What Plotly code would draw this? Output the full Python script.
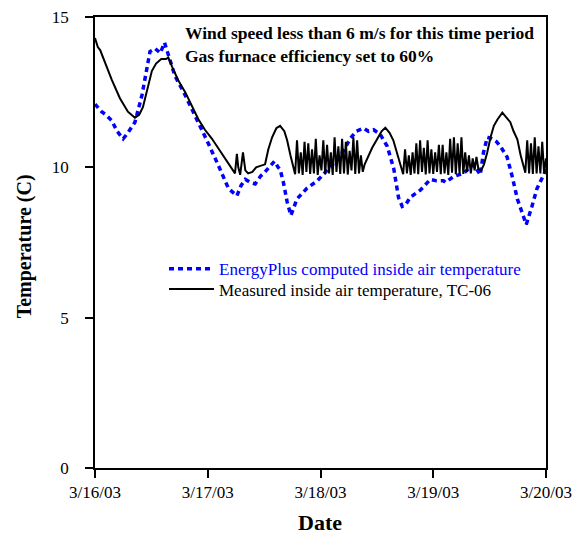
import pandas as pd
import plotly.graph_objects as go

# ---- data (hours after 3/16/03 00:00) ----
ep_hours = [0.0, 1.4, 2.3, 3.6, 4.7, 6.0, 7.0, 8.5, 10.0, 10.7, 11.7, 12.8, 13.9, 14.8, 15.6, 17.0,
            19.2, 22.0, 24.1, 26.3, 28.4, 30.2, 31.1, 32.0, 33.0, 34.1, 35.2, 36.2, 37.3, 38.2, 39.0,
            39.4, 40.1, 40.9, 41.7, 43.0, 45.1, 47.3, 49.4, 51.8, 53.1, 54.3, 55.6, 57.2, 58.2, 59.3,
            60.7, 62.2, 63.6, 64.6, 65.4, 66.1, 67.1, 69.3, 71.4, 72.7, 74.2, 74.6, 76.4, 78.5, 79.5,
            80.6, 81.4, 82.0, 82.7, 83.5, 84.5, 85.5, 86.3, 87.7, 88.8, 89.9, 90.9, 91.8, 93.0, 94.1,
            95.5, 96.0]
ep_temp = [12.1, 11.85, 11.75, 11.55, 11.2, 10.95, 11.15, 11.5, 12.4, 13.0, 13.85, 13.95, 13.8, 14.15,
           13.75, 13.05, 12.4, 11.5, 10.8, 10.05, 9.3, 9.05, 9.4, 9.6, 9.5, 9.45, 9.7, 9.85, 10.05, 10.2,
           10.0, 9.93, 9.5, 8.85, 8.4, 8.95, 9.3, 9.55, 9.9, 10.3, 10.6, 10.95, 11.2, 11.3, 11.2, 11.25,
           11.1, 10.7, 9.95, 9.0, 8.7, 8.75, 9.0, 9.25, 9.6, 9.55, 9.55, 9.5, 9.7, 9.8, 9.95, 10.1, 9.9,
           9.75, 10.5, 11.0, 10.95, 10.85, 10.7, 10.35, 9.7, 8.95, 8.5, 8.1, 8.7, 9.3, 9.75, 9.95]

meas_hours = [0.0, 0.2, 0.6, 1.1, 2.1, 3.6, 5.3, 7.0, 8.5, 9.4, 10.2, 11.3, 12.1, 13.0, 14.1, 15.1,
              15.6, 16.4, 17.7, 19.2, 20.7, 22.0, 23.4, 24.9, 26.6, 28.3, 29.8, 30.2, 30.5, 30.9, 31.5,
              32.0, 32.6, 33.5, 34.3, 35.2, 36.2, 36.9, 37.7, 38.6, 39.4, 40.3, 40.9, 41.6, 42.2,
              42.6, 43.0, 43.4, 43.8, 44.2, 44.6, 45.0, 45.4, 45.8, 46.2, 46.6, 47.0, 47.4, 47.8, 48.2,
              48.6, 49.0, 49.4, 49.8, 50.2, 50.6, 51.0, 51.4, 51.8, 52.2, 52.6, 53.0, 53.4, 53.8, 54.2,
              54.6, 55.0, 55.4, 55.8, 56.2, 56.6, 57.0,
              57.4, 58.2, 59.0, 60.1, 61.0, 61.8, 62.7, 63.5, 64.4, 65.0,
              65.6, 66.0, 66.4, 66.8, 67.2, 67.6, 68.0, 68.4, 68.8, 69.2, 69.6, 70.0, 70.4, 70.8, 71.2,
              71.6, 72.0, 72.4, 72.8, 73.2, 73.6, 74.0, 74.4, 74.8, 75.2, 75.6, 76.0, 76.4, 76.8, 77.2,
              77.6, 78.0, 78.4, 78.8, 79.2, 79.6, 80.0, 80.4, 80.8, 81.2, 81.6,
              82.2, 82.8, 83.5, 84.2, 84.9, 85.7, 86.7, 87.3, 88.4, 89.1, 89.9, 90.6, 91.2,
              91.6, 92.0, 92.4, 92.8, 93.2, 93.6, 94.0, 94.4, 94.8, 95.2, 95.6, 96.0]
meas_temp = [14.3, 14.2, 14.0, 13.9, 13.5, 12.9, 12.3, 11.85, 11.65, 11.75, 12.0, 12.7, 13.2, 13.45,
             13.6, 13.6, 13.65, 13.35, 12.9, 12.5, 12.0, 11.6, 11.25, 10.95, 10.55, 10.15, 9.8, 10.45,
             10.0, 9.75, 10.5, 9.9, 9.8, 9.85, 10.0, 10.05, 10.1, 10.6, 11.0, 11.3, 11.38, 11.2, 10.9,
             10.4, 9.95,
             9.77, 10.9, 9.8, 10.5, 9.75, 10.85, 9.85, 10.8, 9.78, 10.6, 9.8, 10.95, 9.75, 10.4, 9.9,
             10.9, 9.77, 10.75, 9.8, 10.5, 9.75, 11.0, 9.85, 10.7, 9.78, 10.95, 9.8, 10.85, 9.76, 10.55,
             9.9, 11.0, 9.78, 10.9, 9.8, 10.4, 9.85,
             10.1, 10.4, 10.65, 10.95, 11.2, 11.32, 11.15, 10.9, 10.45, 10.1,
             9.77, 10.6, 9.8, 10.4, 9.75, 10.5, 9.8, 10.8, 9.77, 10.9, 9.85, 10.65, 9.76, 10.9, 9.8,
             10.6, 9.78, 10.5, 9.85, 10.75, 9.77, 10.75, 9.8, 10.5, 9.75, 10.95, 9.82, 11.0, 9.77, 10.8,
             9.8, 11.0, 9.78, 10.5, 9.85, 10.4, 9.8, 10.3, 9.9, 10.35, 9.95,
             9.9, 10.1, 10.5, 11.0, 11.38, 11.6, 11.82, 11.7, 11.5, 11.2, 10.93, 10.4, 10.0,
             9.82, 10.9, 9.8, 10.8, 9.78, 11.0, 9.8, 10.7, 9.8, 10.85, 9.8, 10.3]

tick_dates = ["2003-03-16", "2003-03-17", "2003-03-18", "2003-03-19", "2003-03-20"]
tick_labels = ["3/16/03", "3/17/03", "3/18/03", "3/19/03", "3/20/03"]
y_ticks = [0, 5, 10, 15]

start = pd.Timestamp("2003-03-16")
ep_x = start + pd.to_timedelta(ep_hours, unit="h")
meas_x = start + pd.to_timedelta(meas_hours, unit="h")

FONT = "Liberation Serif"
BLUE = "#0000ff"

fig = go.Figure()
fig.add_trace(go.Scatter(
    x=ep_x, y=ep_temp, mode="lines",
    name="<span style='color:#0000ff'>EnergyPlus computed inside air temperature</span>",
    line=dict(color=BLUE, width=3.5, dash="5px,4px"),
    legend="legend"))
fig.add_trace(go.Scatter(
    x=meas_x, y=meas_temp, mode="lines",
    name="Measured inside air temperature, TC-06",
    line=dict(color="black", width=2),
    legend="legend2"))

legend_common = dict(font=dict(family=FONT, size=17, color="black"),
                     bgcolor="rgba(0,0,0,0)", borderwidth=0, xanchor="left",
                     yanchor="middle", itemwidth=45)
fig.update_layout(
    width=585, height=534,
    margin=dict(l=95, r=39, t=17, b=66, autoexpand=False),
    paper_bgcolor="white", plot_bgcolor="white",
    font=dict(family=FONT, size=16, color="black"),
    showlegend=True,
    legend=dict(x=0.153, y=0.441, **legend_common),
    legend2=dict(x=0.153, y=0.396, **legend_common),
    xaxis=dict(
        type="date", automargin=False,
        range=[tick_dates[0], tick_dates[-1]],
        tickvals=tick_dates, ticktext=tick_labels,
        ticks="outside", ticklen=8, tickwidth=1.5, tickcolor="black",
        showline=True, linecolor="black", linewidth=1.5, mirror=True,
        showgrid=False, zeroline=False,
        tickfont=dict(family=FONT, size=17, color="black"),
    ),
    yaxis=dict(
        automargin=False,
        range=[0, 15], tickvals=y_ticks,
        ticks="outside", ticklen=8, tickwidth=1.5, tickcolor="black",
        ticklabelstandoff=13,
        showline=True, linecolor="black", linewidth=1.5, mirror=True,
        showgrid=False, zeroline=False,
        tickfont=dict(family=FONT, size=17, color="black"),
    ),
    annotations=[
        dict(text="<b>Wind speed less than 6 m/s for this time period</b>", xref="paper", yref="paper",
             x=0.195, y=0.9645, xanchor="left", yanchor="middle", showarrow=False,
             font=dict(family=FONT, size=17.5, color="black")),
        dict(text="<b>Gas furnace efficiency set to 60%</b>", xref="paper", yref="paper",
             x=0.195, y=0.914, xanchor="left", yanchor="middle", showarrow=False,
             font=dict(family=FONT, size=17.5, color="black")),
        dict(text="<b>Date</b>", xref="paper", yref="paper",
             x=0.499, y=-0.1215, xanchor="center", yanchor="middle", showarrow=False,
             font=dict(family=FONT, size=22, color="black")),
        dict(text="<b>Temperature (C)</b>", xref="paper", yref="paper", textangle=-90,
             x=-0.157, y=0.492, xanchor="center", yanchor="middle", showarrow=False,
             font=dict(family=FONT, size=20, color="black")),
    ],
)

fig.write_html("out.html")
